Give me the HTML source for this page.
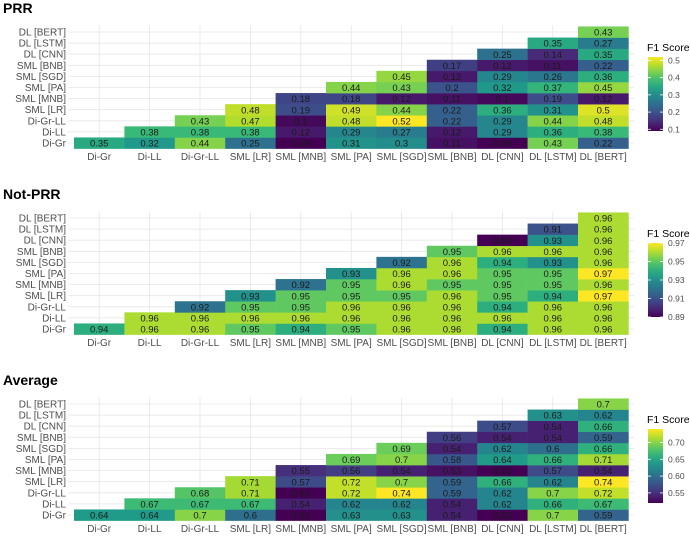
<!DOCTYPE html>
<html><head><meta charset="utf-8"><style>
body{margin:0;background:#fff;}
svg{display:block;font-family:"Liberation Sans",sans-serif;}
</style></head><body>
<svg id="c" width="690" height="537" viewBox="0 0 690 537"></svg>
<script>
const categories=["Di-Gr","Di-LL","Di-Gr-LL","SML [LR]","SML [MNB]","SML [PA]","SML [SGD]","SML [BNB]","DL [CNN]","DL [LSTM]","DL [BERT]"];
const prrValues=[
[0.35,0.32,0.44,0.25,0.09,0.31,0.3,0.11,0.09,0.43,0.22],
[0.38,0.38,0.38,0.12,0.29,0.27,0.12,0.29,0.36,0.38],
[0.43,0.47,0.1,0.48,0.52,0.22,0.29,0.44,0.48],
[0.48,0.19,0.49,0.44,0.22,0.36,0.31,0.5],
[0.18,0.18,0.12,0.11,0.1,0.19,0.12],
[0.44,0.43,0.2,0.32,0.37,0.45],
[0.45,0.12,0.29,0.26,0.36],
[0.17,0.12,0.11,0.22],
[0.25,0.14,0.35],
[0.35,0.27],
[0.43]];
const notPrrValues=[
[0.94,0.96,0.96,0.95,0.94,0.95,0.96,0.96,0.94,0.96,0.96],
[0.96,0.96,0.96,0.96,0.96,0.96,0.96,0.96,0.96,0.96],
[0.92,0.95,0.95,0.96,0.96,0.96,0.94,0.96,0.96],
[0.93,0.95,0.95,0.95,0.96,0.95,0.94,0.97],
[0.92,0.95,0.96,0.95,0.95,0.95,0.96],
[0.93,0.96,0.96,0.95,0.95,0.97],
[0.92,0.96,0.94,0.93,0.96],
[0.95,0.96,0.96,0.96],
[0.89,0.93,0.96],
[0.91,0.96],
[0.96]];
const avgValues=[
[0.64,0.64,0.7,0.6,0.52,0.63,0.63,0.54,0.52,0.7,0.59],
[0.67,0.67,0.67,0.54,0.62,0.62,0.54,0.62,0.66,0.67],
[0.68,0.71,0.52,0.72,0.74,0.59,0.62,0.7,0.72],
[0.71,0.57,0.72,0.7,0.59,0.66,0.62,0.74],
[0.55,0.56,0.54,0.53,0.52,0.57,0.54],
[0.69,0.7,0.58,0.64,0.66,0.71],
[0.69,0.54,0.62,0.6,0.66],
[0.56,0.54,0.54,0.59],
[0.57,0.54,0.66],
[0.63,0.62],
[0.7]];
const prrTicks=["0.5","0.4","0.3","0.2","0.1"];
const notPrrTicks=["0.97","0.95","0.93","0.91","0.89"];
const avgTicks=["0.70","0.65","0.60","0.55"];
const titles=["PRR","Not-PRR","Average"];

const NS="http://www.w3.org/2000/svg";
const svg=document.getElementById('c');
const VIR=["#440154","#482878","#3e4a89","#31688e","#26828e","#1f9e89","#35b779","#6ece58","#b5de2b","#fde725"];
function viridis(t){t=Math.max(0,Math.min(1,t));const p=t*(VIR.length-1);const i=Math.min(Math.floor(p),VIR.length-2);const f=p-i;
const a=VIR[i],b=VIR[i+1];const h=(s,k)=>parseInt(s.substr(1+2*k,2),16);
return "rgb("+[0,1,2].map(k=>Math.round(h(a,k)+(h(b,k)-h(a,k))*f)).join(",")+")";}
function mk(tag,attrs,parent){const e=document.createElementNS(NS,tag);for(const k in attrs)e.setAttribute(k,attrs[k]);(parent||svg).appendChild(e);return e;}

function drawPanel(idx,data,ticks,dy){
  const g=mk('g',{});
  
  
  const x0=74,cw=50.4,rh=11.1,rowC0=143+dy; // row 0 center
  const xC=j=>x0+cw*(j+0.5);
  const yC=i=>rowC0-rh*i;
  const all=data.flat();const vmin=Math.min(...all),vmax=Math.max(...all);
  const t=mk('text',{x:3,y:13+dy,'font-size':14,'font-weight':'bold',fill:'#000'},g);t.textContent=titles[idx];
  
  
  const top=yC(10)-rh/2-1,bot=yC(0)+rh/2+1;
  for(let j=0;j<11;j++){const l=mk('line',{x1:xC(j),x2:xC(j),y1:top,y2:bot,stroke:'#e6e6e6','stroke-width':0.8},g);
    }
  for(let i=0;i<11;i++){const l=mk('line',{x1:68,x2:634,y1:yC(i),y2:yC(i),stroke:'#e6e6e6','stroke-width':0.8},g);
    }
  for(let i=0;i<11;i++){
    const yl=mk('text',{x:66,y:yC(i)+3.5,'font-size':10,'text-anchor':'end',fill:'#4d4d4d'},g);yl.textContent=categories[i];
    
    const xl=mk('text',{x:xC(i),y:yC(0)+17,'font-size':10,'text-anchor':'middle',fill:'#4d4d4d'},g);xl.textContent=categories[i];
    
  }
  data.forEach((row,i)=>row.forEach((v,k)=>{const j=i+k;
    const r=mk('rect',{x:xC(j)-cw/2,y:yC(i)-rh/2,width:cw+0.3,height:rh+0.3,fill:viridis((v-vmin)/(vmax-vmin))},g);
    
    const tx=mk('text',{x:xC(j),y:yC(i)+3.6,'font-size':9.5,'text-anchor':'middle',fill:'#1a1a1a'},g);tx.textContent=String(v);
    
  }));
  // legend
  const lg=mk('g',{},g);
  
  const lt=mk('text',{x:647,y:51+dy,'font-size':10.5,fill:'#000'},lg);lt.textContent='F1 Score';
  const bt=57+dy,bb=131+dy;
  const gid='grad'+idx;const defs=mk('defs',{},lg);const gr=mk('linearGradient',{id:gid,x1:0,y1:1,x2:0,y2:0},defs);
  for(let s=0;s<=10;s++)mk('stop',{offset:s/10,'stop-color':viridis(s/10)},gr);
  mk('rect',{x:648,y:bt,width:15,height:bb-bt,fill:'url(#'+gid+')'},lg);
  ticks.forEach(tk=>{const v=parseFloat(tk);const y=bb-(v-vmin)/(vmax-vmin)*(bb-bt);
    mk('line',{x1:648,x2:651,y1:y,y2:y,stroke:'#fff','stroke-width':0.8},lg);
    mk('line',{x1:660,x2:663,y1:y,y2:y,stroke:'#fff','stroke-width':0.8},lg);
    const tl=mk('text',{x:668,y:y+3,'font-size':8.5,fill:'#4d4d4d'},lg);tl.textContent=tk;
    });
}
drawPanel(0,prrValues,prrTicks,0);
drawPanel(1,notPrrValues,notPrrTicks,186);
drawPanel(2,avgValues,avgTicks,372);
</script>
</body></html>
